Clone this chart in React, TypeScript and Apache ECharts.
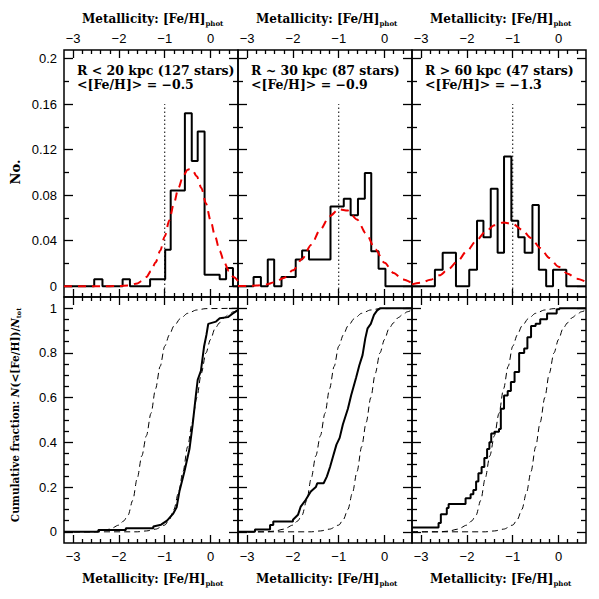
import React, { useEffect, useRef } from "react";
import * as echarts from "echarts";

// ---------- data ----------
const X_MIN = -3.2;
const X_MAX = 0.6;
const xMajor = [-3, -2, -1, 0];
const xMinor = [-2.8, -2.6, -2.4, -2.2, -1.8, -1.6, -1.4, -1.2, -0.8, -0.6, -0.4, -0.2, 0.2, 0.4];
const histYMajor = [0, 0.04, 0.08, 0.12, 0.16, 0.2];
const histYMinor = [0.02, 0.06, 0.1, 0.14, 0.18];
const cumYMajor = [0, 0.2, 0.4, 0.6, 0.8, 1];
const cumYMinor = [0.05, 0.1, 0.15, 0.25, 0.3, 0.35, 0.45, 0.5, 0.55, 0.65, 0.7, 0.75, 0.85, 0.9, 0.95];

const panelLabels = ["R < 20 kpc (127 stars)", "R ~ 30 kpc (87 stars)", "R > 60 kpc (47 stars)"];
const meanLabels = ["<[Fe/H]> = \u22120.5", "<[Fe/H]> = \u22120.9", "<[Fe/H]> = \u22121.3"];
const dottedX = -1;
const dottedTop = 0.16;

// histograms: bin edges and heights
const hist1Edges = [-3.2, -2.54, -2.36, -1.92, -1.76, -1.32, -0.99, -0.87, -0.56, -0.41, -0.28, -0.13, 0.2, 0.34, 0.49, 0.6];
const hist1Heights = [0, 0.006, 0, 0.006, 0, 0.006, 0.032, 0.084, 0.152, 0.11, 0.136, 0.01, 0.006, 0.016, 0];
const hist2Edges = [-3.2, -2.86, -2.7, -2.55, -2.41, -2.25, -1.94, -1.8, -1.65, -1.18, -0.89, -0.74, -0.58, -0.43, -0.29, -0.13, 0.02, 0.6];
const hist2Heights = [0, 0.0081, 0, 0.0235, 0, 0.0081, 0.0235, 0.0313, 0.0235, 0.0699, 0.0768, 0.0623, 0.0768, 0.0994, 0.0307, 0.0154, 0];
const hist3Edges = [-3.2, -2.7, -2.53, -2.24, -1.95, -1.78, -1.64, -1.48, -1.33, -1.19, -1.03, -0.88, -0.74, -0.57, -0.43, -0.27, -0.12, 0.17, 0.6];
const hist3Heights = [0, 0.0145, 0.0293, 0, 0.0145, 0.0574, 0.0429, 0.0855, 0.0293, 0.114, 0.0574, 0.0429, 0.0293, 0.0713, 0.0145, 0, 0.0145, 0];

// red dashed fitted curves
const gauss1 = [[-3.2, 0], [-2.4, 0], [-2.0, 0.0001], [-1.8, 0.0006], [-1.6, 0.0024], [-1.5, 0.0045], [-1.4, 0.008], [-1.3, 0.0133], [-1.2, 0.0209], [-1.1, 0.0311], [-1.0, 0.0437], [-0.9, 0.058], [-0.8, 0.0728], [-0.7, 0.0863], [-0.6, 0.0966], [-0.5, 0.1023], [-0.45, 0.103], [-0.4, 0.1023], [-0.3, 0.0966], [-0.2, 0.0863], [-0.1, 0.0728], [0, 0.058], [0.1, 0.0437], [0.2, 0.0311], [0.3, 0.0209], [0.4, 0.0133], [0.5, 0.008], [0.6, 0.0045]];
const gauss2 = [[-3.2, 0.0001], [-3.0, 0.0002], [-2.8, 0.0005], [-2.6, 0.0014], [-2.4, 0.0034], [-2.2, 0.0072], [-2.0, 0.0139], [-1.8, 0.0238], [-1.6, 0.0365], [-1.4, 0.05], [-1.2, 0.0615], [-1.0, 0.0675], [-0.8, 0.0664], [-0.6, 0.0585], [-0.4, 0.046], [-0.2, 0.0324], [0, 0.0205], [0.2, 0.0116], [0.4, 0.0058], [0.6, 0.0026]];
const gauss3 = [[-3.2, 0.0016], [-3.0, 0.0031], [-2.8, 0.0056], [-2.6, 0.0095], [-2.4, 0.0151], [-2.2, 0.0223], [-2.0, 0.0309], [-1.8, 0.0397], [-1.6, 0.0477], [-1.4, 0.0535], [-1.2, 0.056], [-1.0, 0.0546], [-0.8, 0.0497], [-0.6, 0.0423], [-0.4, 0.0335], [-0.2, 0.0248], [0, 0.0171], [0.2, 0.011], [0.4, 0.0066], [0.6, 0.0037]];

// cumulative distributions
const cdf1 = [[-3.2, 0], [-2.45, 0], [-2.45, 0.008], [-1.85, 0.008], [-1.85, 0.016], [-1.25, 0.016], [-1.25, 0.024], [-1.08, 0.032], [-0.95, 0.05], [-0.82, 0.08], [-0.74, 0.11], [-0.68, 0.18], [-0.57, 0.27], [-0.46, 0.37], [-0.39, 0.48], [-0.32, 0.61], [-0.28, 0.68], [-0.21, 0.72], [-0.14, 0.83], [-0.09, 0.88], [-0.05, 0.93], [0.12, 0.94], [0.2, 0.955], [0.38, 0.96], [0.48, 0.975], [0.59, 0.99], [0.62, 1.0]];
const cdf2 = [[-3.2, 0], [-2.83, 0], [-2.83, 0.01], [-2.5, 0.01], [-2.5, 0.031], [-2.43, 0.031], [-2.43, 0.046], [-2.0, 0.046], [-2.0, 0.054], [-1.89, 0.076], [-1.83, 0.113], [-1.72, 0.143], [-1.61, 0.18], [-1.5, 0.2], [-1.47, 0.217], [-1.33, 0.217], [-1.26, 0.247], [-1.19, 0.29], [-1.12, 0.34], [-1.05, 0.39], [-0.98, 0.42], [-0.91, 0.48], [-0.8, 0.55], [-0.73, 0.61], [-0.62, 0.69], [-0.55, 0.745], [-0.48, 0.79], [-0.42, 0.865], [-0.37, 0.91], [-0.3, 0.93], [-0.23, 0.97], [-0.16, 0.99], [-0.09, 1.0], [0.6, 1.0]];
const cdf3 = [[-3.2, 0.019], [-2.62, 0.039], [-2.57, 0.079], [-2.44, 0.106], [-2.4, 0.124], [-2.03, 0.15], [-1.92, 0.168], [-1.86, 0.1875], [-1.8, 0.225], [-1.75, 0.262], [-1.68, 0.29], [-1.62, 0.33], [-1.56, 0.37], [-1.51, 0.4], [-1.47, 0.44], [-1.4, 0.448], [-1.3, 0.46], [-1.26, 0.55], [-1.19, 0.61], [-1.11, 0.63], [-1.04, 0.67], [-0.96, 0.715], [-0.86, 0.8], [-0.75, 0.82], [-0.68, 0.87], [-0.6, 0.92], [-0.5, 0.93], [-0.4, 0.95], [-0.25, 0.976], [-0.04, 0.995], [0.02, 1.0], [0.6, 1.0]];
const cdfMetalPoor = [[-3.2, 0], [-2.6, 0], [-2.4, 0.003], [-2.2, 0.012], [-2.0, 0.03], [-1.9, 0.048], [-1.8, 0.075], [-1.7, 0.14], [-1.6, 0.24], [-1.5, 0.34], [-1.4, 0.43], [-1.3, 0.53], [-1.2, 0.64], [-1.1, 0.74], [-1.0, 0.83], [-0.9, 0.88], [-0.8, 0.92], [-0.65, 0.955], [-0.5, 0.977], [-0.3, 0.992], [-0.1, 0.998], [0.6, 1.0]];
const cdfMetalRich = [[-3.2, 0], [-1.6, 0], [-1.4, 0.004], [-1.2, 0.012], [-1.0, 0.03], [-0.9, 0.055], [-0.8, 0.1], [-0.7, 0.175], [-0.6, 0.27], [-0.5, 0.38], [-0.4, 0.49], [-0.3, 0.6], [-0.2, 0.71], [-0.1, 0.8], [0.0, 0.86], [0.1, 0.91], [0.2, 0.935], [0.3, 0.958], [0.4, 0.972], [0.5, 0.984], [0.6, 0.992]];

const histEdges = [hist1Edges, hist2Edges, hist3Edges];
const histHeights = [hist1Heights, hist2Heights, hist3Heights];
const gaussCurves = [gauss1, gauss2, gauss3];
const cdfs = [cdf1, cdf2, cdf3];

// ---------- chart ----------
const SANS = "Liberation Sans";
const SERIF = "DejaVu Serif";
const fmtNum = (v: number) => (v < 0 ? "\u2212" + String(Math.abs(v)) : String(v));

export default function App() {
  const ref = useRef<HTMLDivElement>(null);
  useEffect(() => {
    document.body.style.margin = "0";
    const chart = echarts.init(ref.current!, null, { renderer: "svg" });

    const colLeft = [64, 238, 412];
    const colW = 174;
    const rowTop = [50, 297];
    const rowH = [247, 246];
    const yRange = [
      [-0.0095, 0.2075],
      [-0.05, 1.05],
    ];

    const grids: any[] = [];
    const xAxes: any[] = [];
    const yAxes: any[] = [];
    const series: any[] = [];
    const tickLine = { color: "#000", width: 1.3 };
    const labelStyle = { color: "#000", fontFamily: SANS, fontSize: 13 };

    for (let row = 0; row < 2; row++) {
      for (let col = 0; col < 3; col++) {
        const g = row * 3 + col;
        grids.push({
          left: colLeft[col],
          top: rowTop[row],
          width: colW,
          height: rowH[row],
          show: true,
          borderColor: "#000",
          borderWidth: 1.5,
          backgroundColor: "transparent",
          containLabel: false,
        });
        const xAx = (pos: string, major: boolean, showLabel: boolean) => ({
          type: "value",
          gridIndex: g,
          position: pos,
          min: X_MIN,
          max: X_MAX,
          axisLine: { show: false, onZero: false },
          splitLine: { show: false },
          axisTick: { show: true, inside: true, length: major ? 8 : 4, customValues: major ? xMajor : xMinor, lineStyle: tickLine },
          axisLabel: showLabel
            ? { show: true, customValues: xMajor, formatter: fmtNum, margin: pos === "bottom" ? 7 : 5, ...labelStyle }
            : { show: false },
        });
        xAxes.push(xAx("bottom", true, row === 1));
        xAxes.push(xAx("bottom", false, false));
        xAxes.push(xAx("top", true, row === 0));
        xAxes.push(xAx("top", false, false));
        const yMaj = row === 0 ? histYMajor : cumYMajor;
        const yMin = row === 0 ? histYMinor : cumYMinor;
        const yAx = (pos: string, major: boolean, showLabel: boolean) => ({
          type: "value",
          gridIndex: g,
          position: pos,
          min: yRange[row][0],
          max: yRange[row][1],
          axisLine: { show: false, onZero: false },
          splitLine: { show: false },
          axisTick: { show: true, inside: true, length: major ? 9 : 5, customValues: major ? yMaj : yMin, lineStyle: tickLine },
          axisLabel: showLabel
            ? { show: true, customValues: yMaj, formatter: (v: number) => String(v), margin: 7, ...labelStyle }
            : { show: false },
        });
        yAxes.push(yAx("left", true, col === 0));
        yAxes.push(yAx("left", false, false));
        yAxes.push(yAx("right", true, false));
        yAxes.push(yAx("right", false, false));

        const ax = { xAxisIndex: g * 4, yAxisIndex: g * 4 };
        if (row === 0) {
          const edges = histEdges[col];
          const hs = histHeights[col];
          series.push({
            type: "line",
            ...ax,
            data: edges.map((e, i) => [e, hs[Math.min(i, hs.length - 1)]]),
            step: "end",
            symbol: "none",
            lineStyle: { color: "#000", width: 2 },
            z: 3,
          });
          series.push({
            type: "line",
            ...ax,
            data: gaussCurves[col],
            smooth: 0.3,
            smoothMonotone: "x",
            symbol: "none",
            lineStyle: { color: "#ee0000", width: 2, type: [8, 6] },
            z: 4,
          });
          series.push({
            type: "line",
            ...ax,
            data: [[dottedX, yRange[0][0]], [dottedX, dottedTop]],
            symbol: "none",
            lineStyle: { color: "#000", width: 1, type: [1.5, 2.5] },
            z: 2,
          });
        } else {
          series.push({
            type: "line",
            ...ax,
            data: cdfMetalPoor,
            smooth: 0.3,
            smoothMonotone: "x",
            symbol: "none",
            lineStyle: { color: "#000", width: 1, type: [6, 4] },
            z: 2,
          });
          series.push({
            type: "line",
            ...ax,
            data: cdfMetalRich,
            smooth: 0.3,
            smoothMonotone: "x",
            symbol: "none",
            lineStyle: { color: "#000", width: 1, type: [6, 4] },
            z: 2,
          });
          series.push({
            type: "line",
            ...ax,
            data: cdfs[col],
            step: col === 2 ? "end" : false,
            symbol: "none",
            lineStyle: { color: "#000", width: 2 },
            z: 3,
          });
        }
      }
    }

    const graphic: any[] = [];
    const titleRich = {
      a: { fontFamily: SERIF, fontWeight: "bold", fontSize: 12, lineHeight: 16, fill: "#000" },
      b: { fontFamily: SERIF, fontWeight: "bold", fontSize: 7, lineHeight: 8, verticalAlign: "bottom", fill: "#000" },
    };
    for (let col = 0; col < 3; col++) {
      for (const y of [19, 579]) {
        graphic.push({
          type: "text",
          x: 82 + col * colW,
          y,
          style: {
            text: "{a|Metallicity: [Fe/H]}{b|phot}",
            rich: titleRich,
            textAlign: "left",
            textVerticalAlign: "middle",
          },
        });
      }
      graphic.push({
        type: "text",
        x: colLeft[col] + 13,
        y: 70,
        style: { text: panelLabels[col], font: `bold 12.5px "${SERIF}"`, fill: "#000", textAlign: "left", textVerticalAlign: "middle" },
        z: 10,
      });
      graphic.push({
        type: "text",
        x: colLeft[col] + 13,
        y: 84,
        style: { text: meanLabels[col], font: `bold 12.5px "${SERIF}"`, fill: "#000", textAlign: "left", textVerticalAlign: "middle" },
        z: 10,
      });
    }
    graphic.push({
      type: "text",
      x: 15,
      y: 172,
      rotation: Math.PI / 2,
      style: { text: "No.", font: `bold 13px "${SERIF}"`, fill: "#000", textAlign: "center", textVerticalAlign: "middle" },
    });
    graphic.push({
      type: "text",
      x: 15,
      y: 415,
      rotation: Math.PI / 2,
      style: {
        text: "{a|Cumulative fraction: }{i|N}{a|(<[Fe/H])/}{i|N}{s|tot}",
        rich: {
          a: { fontFamily: SERIF, fontWeight: "bold", fontSize: 10.5, lineHeight: 14, fill: "#000" },
          i: { fontFamily: SERIF, fontWeight: "bold", fontStyle: "italic", fontSize: 10.5, lineHeight: 14, fill: "#000" },
          s: { fontFamily: SERIF, fontWeight: "bold", fontSize: 6.5, lineHeight: 7, verticalAlign: "bottom", fill: "#000" },
        },
        textAlign: "center",
        textVerticalAlign: "middle",
      },
    });

    chart.setOption({
      animation: false,
      backgroundColor: "#fff",
      grid: grids,
      xAxis: xAxes,
      yAxis: yAxes,
      series,
      graphic,
    });
    return () => chart.dispose();
  }, []);
  return <div ref={ref} style={{ width: 599, height: 599 }} />;
}
